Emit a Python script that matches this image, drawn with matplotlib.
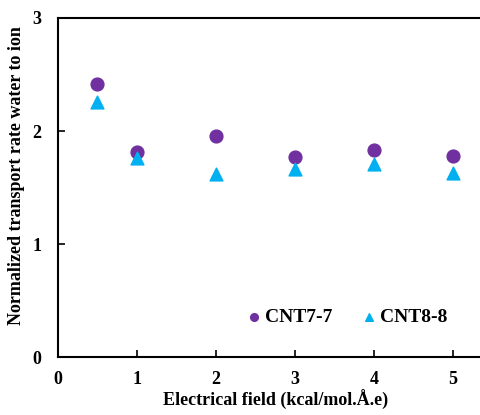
import matplotlib.pyplot as plt

plt.rcParams['font.family'] = 'Liberation Serif'
plt.rcParams['font.weight'] = 'bold'

# Electrical field values
field = [0.5, 1, 2, 3, 4, 5]

# Normalized transport rate water to ion
cnt77 = [2.42, 1.81, 1.96, 1.77, 1.83, 1.78]
cnt88 = [2.26, 1.76, 1.62, 1.66, 1.71, 1.63]

fig = plt.figure(figsize=(4.81, 4.15), dpi=100)
ax = fig.add_axes([58 / 481, 58 / 415, 423 / 481, 339 / 415])

ax.scatter(field, cnt77, marker='o', s=85, color='#7030A0', label='CNT7-7', zorder=3)
ax.scatter(field, cnt88, marker='^', s=85, color='#00B0F0', label='CNT8-8', zorder=3)

ax.set_xlim(0, 423 / 79)
ax.set_ylim(0, 3)
ax.set_xticks([0, 1, 2, 3, 4, 5])
ax.set_yticks([0, 1, 2, 3])
ax.tick_params(direction='in', length=5, width=1.2, labelsize=13)
ax.tick_params(axis='x', pad=10)
ax.tick_params(axis='y', pad=12)
ax.spines['right'].set_visible(False)
for s in ['left', 'bottom', 'top']:
    ax.spines[s].set_linewidth(1.5)

ax.set_xlabel('Electrical field (kcal/mol.Å.e)', fontsize=13, fontweight='bold', va='center')
ax.set_ylabel('Normalized transport rate water to ion', fontsize=13, fontweight='bold', va='center')
ax.xaxis.set_label_coords(0.514, -0.127)
ax.yaxis.set_label_coords(-0.097, 0.534)

ax.legend(loc='center', bbox_to_anchor=(0.68, 0.116), ncol=2, frameon=False,
          handletextpad=0.05, columnspacing=1.4, markerscale=0.6, handlelength=1.0,
          prop={'weight': 'bold', 'size': 14})

fig.savefig('out.png', dpi=100)
